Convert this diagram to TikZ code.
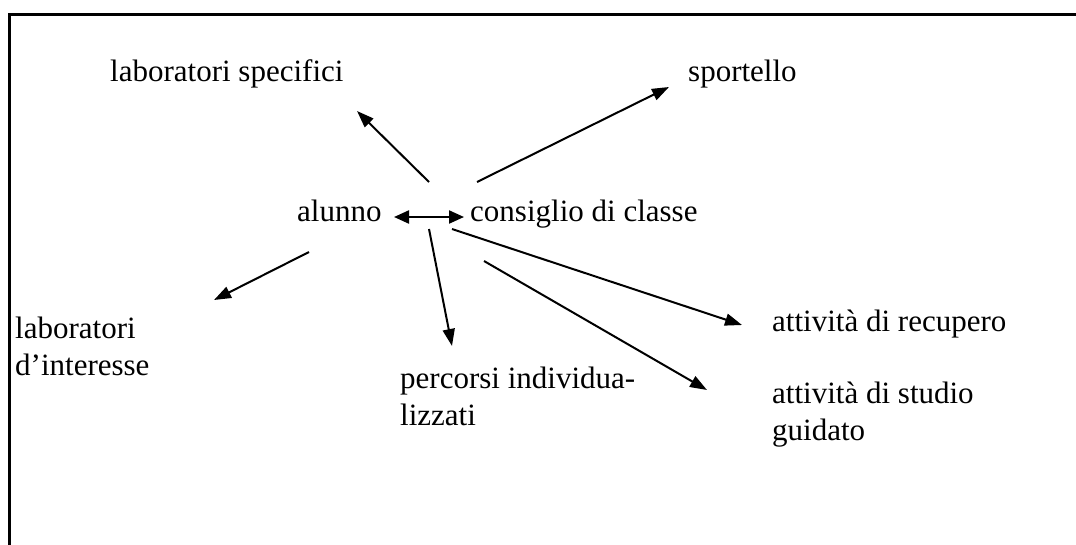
\documentclass[tikz,border=0pt]{standalone}
\usepackage{fontspec}
\setmainfont{Liberation Serif}
\usetikzlibrary{arrows.meta}
\begin{document}
\begin{tikzpicture}[x=1pt,y=-1pt,
  lbl/.style={font=\fontsize{31}{36.5}\selectfont, inner sep=0pt, anchor=base west, align=left},
  arr/.style={line width=2pt, -{Triangle[length=17pt,width=12pt]}},
  dbl/.style={line width=2.2pt, {Triangle[length=15pt,width=13pt]}-{Triangle[length=15pt,width=13pt]}},
  frame/.style={line width=2.2pt}
]
\useasboundingbox (0,0) rectangle (1076,544);
\draw[frame] (9.5,560) -- (9.5,14.5) -- (1090,14.5);

\node[lbl] (labspec) at (110,81) {laboratori specifici};
\node[lbl] (sport) at (688,81) {sportello};
\node[lbl] (alunno) at (297,221) {alunno};
\node[lbl] (cons) at (470,221) {consiglio di classe};
\node[lbl] (labint) at (15,375) {laboratori\\d’interesse};
\node[lbl] (perc) at (400,425) {percorsi individua-\\lizzati};
\node[lbl] (recup) at (772,331) {attività di recupero};
\node[lbl] (studio) at (772,440) {attività di studio\\guidato};

\coordinate (s1) at (429,182);  \coordinate (t1) at (357,111);
\coordinate (s2) at (477,182);  \coordinate (t2) at (669,87);
\coordinate (s3) at (309,252);  \coordinate (t3) at (214,300);
\coordinate (s4) at (429,229);  \coordinate (t4) at (452,346);
\coordinate (s5) at (452,229);  \coordinate (t5) at (742,325);
\coordinate (s6) at (484,261);  \coordinate (t6) at (707,390);
\coordinate (dl) at (394,217);  \coordinate (dr) at (464,217);

\draw[arr] (s1) -- (t1);
\draw[arr] (s2) -- (t2);
\draw[arr] (s3) -- (t3);
\draw[arr] (s4) -- (t4);
\draw[arr] (s5) -- (t5);
\draw[arr] (s6) -- (t6);
\draw[dbl] (dl) -- (dr);
\end{tikzpicture}
\end{document}
